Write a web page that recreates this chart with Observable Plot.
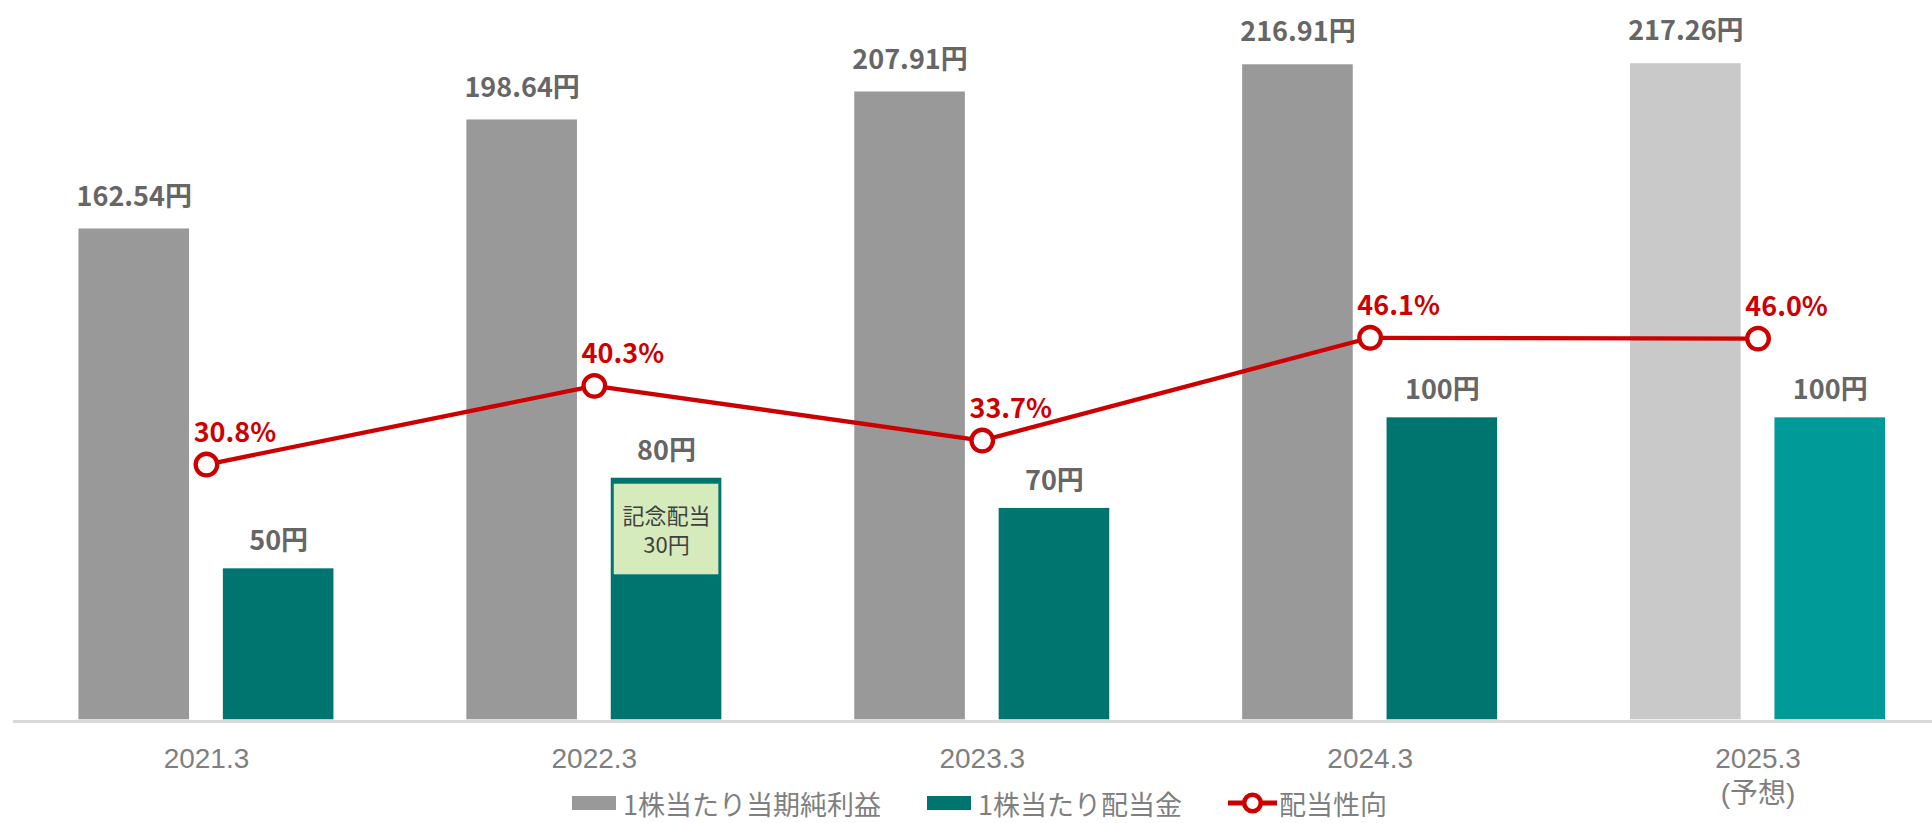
<!DOCTYPE html>
<html>
<head>
<meta charset="utf-8">
<script src="https://cdn.jsdelivr.net/npm/d3@7"></script>
<script src="https://cdn.jsdelivr.net/npm/@observablehq/plot@0.6"></script>
<style>
  body { margin: 0; background: #fff; }
  #wrap { position: relative; width: 1932px; height: 823px; overflow: hidden; background: #fff; }
  #chart svg { display: block; }
  #legend { position: absolute; left: 572px; top: 787px; height: 32px; display: flex; align-items: center;
    font-family: "Noto Sans CJK JP", sans-serif; font-size: 27px; line-height: 1; color: #7f7f7f; white-space: nowrap; }
  #legend .item { display: flex; align-items: center; }
  #legend .sw { width: 44px; height: 14px; margin-right: 7px; }
  #legend svg { margin-right: 2px; display: block; }
</style>
</head>
<body>
<div id="wrap">
  <div id="chart"></div>
  <div id="legend"></div>
</div>
<script>
// ---- data ----
const years = ["2021.3", "2022.3", "2023.3", "2024.3", "2025.3"];
const yearLabels = ["2021.3", "2022.3", "2023.3", "2024.3", "2025.3\n(予想)"];
const eps = [162.54, 198.64, 207.91, 216.91, 217.26];          // 1株当たり当期純利益 (円)
const dividends = [50, 80, 70, 100, 100];                       // 1株当たり配当金 (円)
const payoutRatio = [30.8, 40.3, 33.7, 46.1, 46.0];             // 配当性向 (%)
const isForecast = [false, false, false, false, true];
const seriesNames = ["1株当たり当期純利益", "1株当たり配当金", "配当性向"];
const commemorativeYear = "2022.3";
const commemorativeAmount = 30;
const commemorativeLabel = "記念配当\n30円";

// ---- styles ----
const C_EPS = "#999999", C_EPS_F = "#C9C9C9";
const C_DIV = "#00746F", C_DIV_F = "#009B98";
const C_RED = "#CC0000";
const C_BOX = "#D5EBBB";

const rows = years.map((year, i) => ({
  year, label: yearLabels[i], eps: eps[i], div: dividends[i], ratio: payoutRatio[i], forecast: isForecast[i]
}));

// primary axis (円) and secondary axis (%) share the baseline
const Y_MAX = 238.2, RATIO_MAX = 86.8;
const ratioY = r => r * Y_MAX / RATIO_MAX;

const H = 823, BASE = 719.3;
const BW = 387.9;                   // band width
const IN_NEAR = 210.85, IN_FAR = 66.45;
const OFF = 72.2;                   // bar centre offset from band centre

const chart = Plot.plot({
  width: 1932, height: H,
  marginLeft: 13, marginRight: 0, marginTop: 0, marginBottom: H - BASE,
  style: { fontFamily: "'Noto Sans CJK JP', sans-serif", background: "transparent" },
  x: { type: "band", domain: years, range: [12, 12 + BW * years.length], padding: 0, round: false, axis: null },
  y: { domain: [0, Y_MAX], axis: null },
  color: { type: "identity" },
  marks: [
    Plot.ruleY([0], { stroke: "#d9d9d9", strokeWidth: 3, dy: 1.7 }),
    Plot.barY(rows, { x: "year", y: "eps", fill: d => d.forecast ? C_EPS_F : C_EPS, insetLeft: IN_FAR, insetRight: IN_NEAR }),
    Plot.barY(rows, { x: "year", y: "div", fill: d => d.forecast ? C_DIV_F : C_DIV, insetLeft: IN_NEAR, insetRight: IN_FAR }),
    Plot.barY(rows.filter(d => d.year === commemorativeYear), {
      x: "year", y1: d => d.div - commemorativeAmount, y2: "div", dy: 6,
      fill: C_BOX, insetLeft: IN_NEAR + 3, insetRight: IN_FAR + 3
    }),
    Plot.text(rows.filter(d => d.year === commemorativeYear), {
      x: "year", y: d => d.div - commemorativeAmount / 2, text: () => commemorativeLabel,
      dx: OFF, dy: 6, fontSize: 22, lineHeight: 1.3, fill: "#404040"
    }),
    Plot.line(rows, { x: "year", y: d => ratioY(d.ratio), stroke: C_RED, strokeWidth: 4.3 }),
    Plot.dot(rows, { x: "year", y: d => ratioY(d.ratio), r: 10.8, fill: "white", stroke: C_RED, strokeWidth: 4.3 }),
    Plot.text(rows, { x: "year", y: d => ratioY(d.ratio), text: d => d.ratio.toFixed(1) + "%",
      dx: 28.5, dy: -31, fill: C_RED, fontSize: 27, fontWeight: "bold" }),
    Plot.text(rows, { x: "year", y: "eps", text: d => d.eps.toFixed(2) + "円",
      dx: -OFF, dy: -32, fill: "#666666", fontSize: 27, fontWeight: "bold" }),
    Plot.text(rows, { x: "year", y: "div", text: d => d.div + "円",
      dx: OFF, dy: -27, fill: "#666666", fontSize: 27, fontWeight: "bold" }),
    Plot.text(rows, { x: "year", text: "label", frameAnchor: "bottom", lineAnchor: "top", dy: 24,
      fontSize: 28, lineHeight: 1.23, fill: "#7f7f7f", fontFamily: "'Liberation Sans', Arial, 'Noto Sans CJK JP', sans-serif" })
  ]
});
document.getElementById("chart").append(chart);

// ---- legend ----
const legend = document.getElementById("legend");
const swatchColors = [C_EPS, C_DIV];
seriesNames.forEach((name, i) => {
  const item = document.createElement("div");
  item.className = "item";
  if (i < 2) {
    const sw = document.createElement("div");
    sw.className = "sw";
    sw.style.background = swatchColors[i];
    item.append(sw);
  } else {
    const ns = "http://www.w3.org/2000/svg";
    const s = document.createElementNS(ns, "svg");
    s.setAttribute("width", 49); s.setAttribute("height", 24);
    const l = document.createElementNS(ns, "line");
    l.setAttribute("x1", 0); l.setAttribute("x2", 49); l.setAttribute("y1", 12); l.setAttribute("y2", 12);
    l.setAttribute("stroke", C_RED); l.setAttribute("stroke-width", 5);
    const c = document.createElementNS(ns, "circle");
    c.setAttribute("cx", 24.5); c.setAttribute("cy", 12); c.setAttribute("r", 8.3);
    c.setAttribute("fill", "white"); c.setAttribute("stroke", C_RED); c.setAttribute("stroke-width", 4.5);
    s.append(l, c);
    item.append(s);
  }
  const t = document.createElement("span");
  t.textContent = name;
  item.append(t);
  if (i < seriesNames.length - 1) item.style.marginRight = "46px";
  legend.append(item);
});
</script>
</body>
</html>
